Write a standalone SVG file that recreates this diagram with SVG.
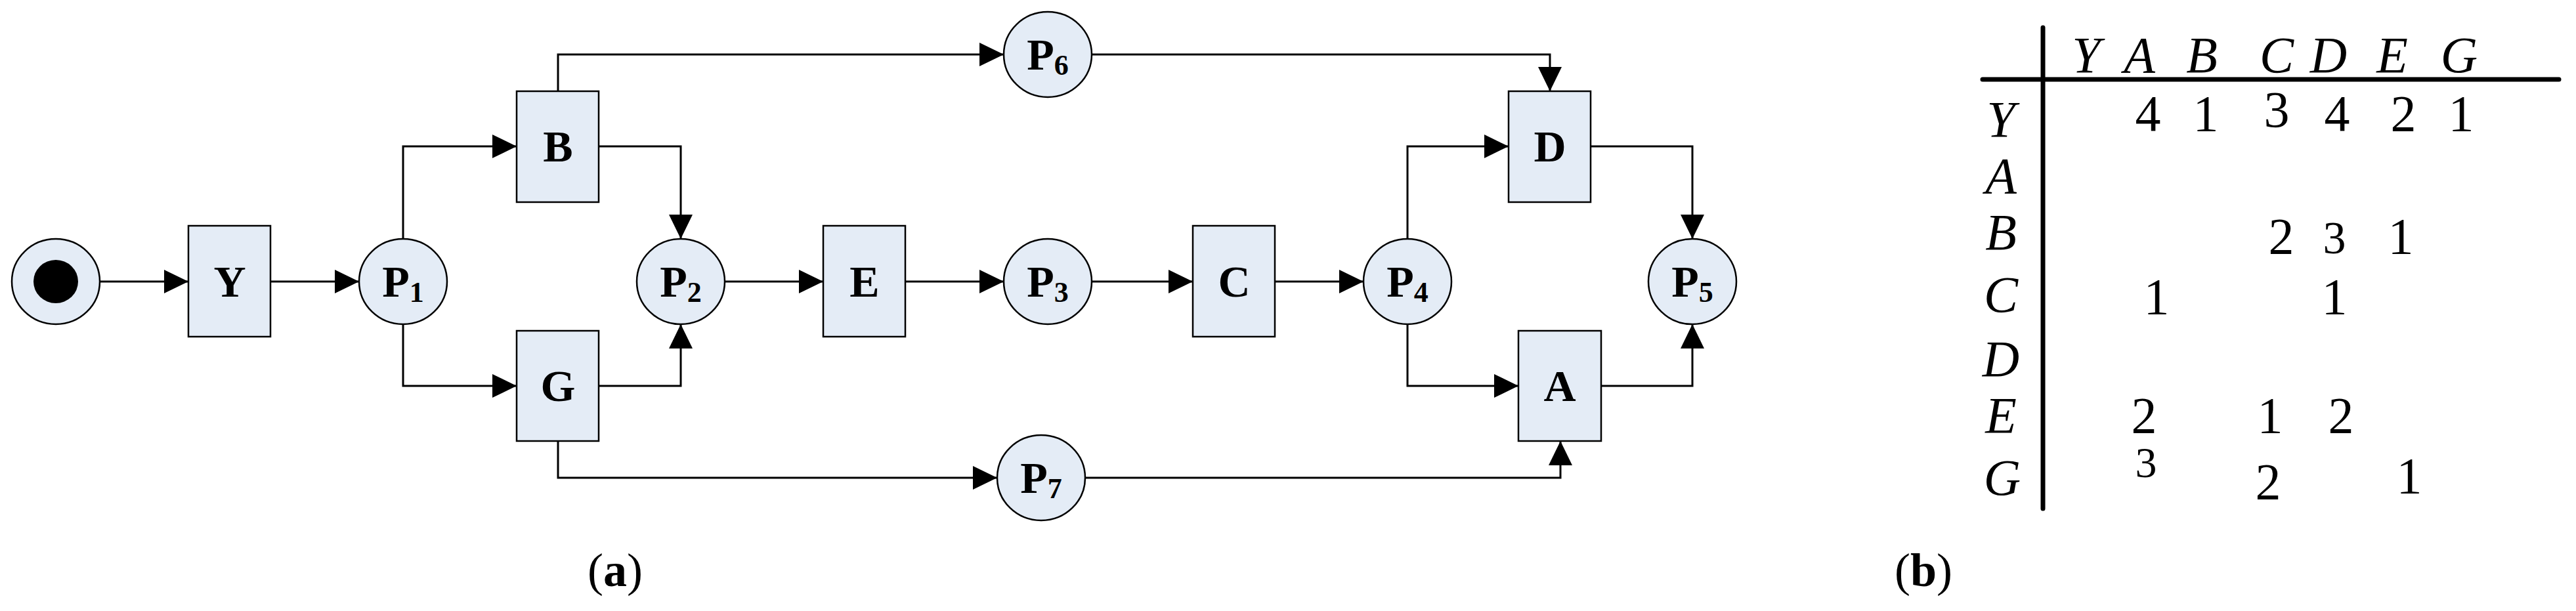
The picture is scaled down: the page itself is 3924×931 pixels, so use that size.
<svg xmlns="http://www.w3.org/2000/svg" width="3924" height="931" viewBox="0 0 3924 931">
<style>
.n{fill:#e4ecf6;stroke:#000;stroke-width:2.5}
.c{fill:none;stroke:#000;stroke-width:3}
.t{font-family:"Liberation Serif",serif;font-size:68px;text-anchor:middle;font-weight:bold}
.s{font-size:44px}
.m{font-family:"Liberation Serif",serif;font-size:78px;font-style:italic;text-anchor:middle}
.d{font-family:"Liberation Serif",serif;font-size:78px;text-anchor:middle}
.cap{font-family:"Liberation Serif",serif;font-size:72px;text-anchor:middle}
</style>
<defs><marker id="ar" markerWidth="37" markerHeight="36" refX="37" refY="18" orient="auto" markerUnits="userSpaceOnUse"><path d="M0,0L37,18L0,36Z" fill="#000"/></marker></defs>
<g id="connectors" class="c" marker-end="url(#ar)">
<path d="M152,429H287"/>
<path d="M412,429H547"/>
<path d="M614,364V223H787"/>
<path d="M614,494V588H787"/>
<path d="M912,223H1037V364"/>
<path d="M912,588H1037V494"/>
<path d="M1104,429H1254"/>
<path d="M1379,429H1529"/>
<path d="M1663,429H1817"/>
<path d="M1942,429H2077"/>
<path d="M2144,364V223H2298"/>
<path d="M2144,494V588H2313"/>
<path d="M2423,223H2578V364"/>
<path d="M2439,588H2578V494"/>
<path d="M850,139V83H1529"/>
<path d="M1663,83H2361V139"/>
<path d="M850,672V728H1519"/>
<path d="M1653,728H2377V672"/>
</g>
<g id="start"><ellipse class="n" cx="85" cy="429" rx="67" ry="65"/><ellipse cx="85" cy="429" rx="34" ry="33"/></g>
<g id="Y"><rect class="n" x="287" y="344" width="125" height="169"/><text class="t" x="350" y="452">Y</text></g>
<g id="B"><rect class="n" x="787" y="139" width="125" height="169"/><text class="t" x="850" y="246">B</text></g>
<g id="G"><rect class="n" x="787" y="504" width="125" height="168"/><text class="t" x="850" y="611">G</text></g>
<g id="E"><rect class="n" x="1254" y="344" width="125" height="169"/><text class="t" x="1317" y="452">E</text></g>
<g id="C"><rect class="n" x="1817" y="344" width="125" height="169"/><text class="t" x="1880" y="452">C</text></g>
<g id="D"><rect class="n" x="2298" y="139" width="125" height="169"/><text class="t" x="2361" y="246">D</text></g>
<g id="A"><rect class="n" x="2313" y="504" width="126" height="168"/><text class="t" x="2376" y="611">A</text></g>
<g id="P1"><ellipse class="n" cx="614" cy="429" rx="67" ry="65"/><text class="t" x="614" y="452">P<tspan class="s" dy="8">1</tspan></text></g>
<g id="P2"><ellipse class="n" cx="1037" cy="429" rx="67" ry="65"/><text class="t" x="1037" y="452">P<tspan class="s" dy="8">2</tspan></text></g>
<g id="P3"><ellipse class="n" cx="1596" cy="429" rx="67" ry="65"/><text class="t" x="1596" y="452">P<tspan class="s" dy="8">3</tspan></text></g>
<g id="P4"><ellipse class="n" cx="2144" cy="429" rx="67" ry="65"/><text class="t" x="2144" y="452">P<tspan class="s" dy="8">4</tspan></text></g>
<g id="P5"><ellipse class="n" cx="2578" cy="429" rx="67" ry="65"/><text class="t" x="2578" y="452">P<tspan class="s" dy="8">5</tspan></text></g>
<g id="P6"><ellipse class="n" cx="1596" cy="83" rx="67" ry="65"/><text class="t" x="1596" y="106">P<tspan class="s" dy="8">6</tspan></text></g>
<g id="P7"><ellipse class="n" cx="1586" cy="728" rx="67" ry="65"/><text class="t" x="1586" y="751">P<tspan class="s" dy="8">7</tspan></text></g>
<text class="cap" x="937" y="893">(<tspan font-weight="bold">a</tspan>)</text>
<text class="cap" x="2930" y="893">(<tspan font-weight="bold">b</tspan>)</text>
<g id="table">
<path d="M3112,42V775M3020,121H3898" stroke="#000" stroke-width="7" stroke-linecap="round" fill="none"/>
<g class="m">
<text x="3178" y="110">Y</text><text x="3259" y="110">A</text><text x="3354" y="110">B</text><text x="3468" y="110">C</text><text x="3547" y="110">D</text><text x="3644" y="110">E</text><text x="3746" y="110">G</text>
<text x="3048" y="208">Y</text><text x="3048" y="294">A</text><text x="3048" y="380">B</text><text x="3048" y="475">C</text><text x="3048" y="573">D</text><text x="3048" y="659">E</text><text x="3050" y="754">G</text>
</g>
<g class="d">
<text x="3272" y="199">4</text><text x="3360" y="199">1</text><text x="3468" y="193">3</text><text x="3560" y="199">4</text><text x="3661" y="199">2</text><text x="3749" y="199">1</text>
<text x="3475" y="386">2</text><text x="3556" y="386" font-size="70">3</text><text x="3657" y="386">1</text>
<text x="3285" y="478">1</text><text x="3556" y="478">1</text>
<text x="3266" y="659">2</text><text x="3458" y="659">1</text><text x="3566" y="659">2</text>
<text x="3269" y="727" font-size="66">3</text><text x="3455" y="760">2</text><text x="3670" y="751">1</text>
</g>
</g>
</svg>
